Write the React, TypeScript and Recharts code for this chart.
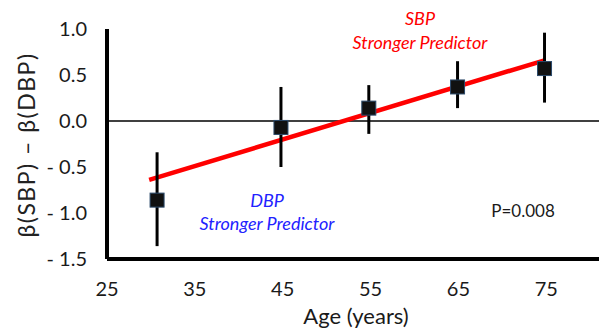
import {
  ComposedChart,
  Scatter,
  XAxis,
  YAxis,
  ReferenceLine,
} from "recharts";

// age group midpoints and beta difference estimates
const ages = [30.7, 44.8, 54.8, 64.9, 74.8];
const betaDiff = [-0.86, -0.07, 0.14, 0.37, 0.57];
const ciLow = [-1.36, -0.5, -0.14, 0.14, 0.2];
const ciHigh = [-0.34, 0.37, 0.39, 0.65, 0.96];

// regression fit end points
const fitX = [29.8, 74.8];
const fitY = [-0.64, 0.66];

const xTicks = [25, 35, 45, 55, 65, 75];
const yTicks = [-1.5, -1.0, -0.5, 0.0, 0.5, 1.0];

const FONT = "Lato, 'Open Sans', sans-serif";

const points = ages.map((age, i) => ({ age, diff: betaDiff[i] }));
// one two-point series per confidence interval
const ciSeries = ages.map((age, i) => [
  { age, diff: ciLow[i] },
  { age, diff: ciHigh[i] },
]);

const fmtY = (v: number) => (v < 0 ? "- " + Math.abs(v).toFixed(1) : v.toFixed(1));

const Square = (props: any) => {
  const { cx, cy } = props;
  return (
    <rect
      x={cx - 7}
      y={cy - 7}
      width={14}
      height={14}
      fill="#111"
      stroke="#2b4a6b"
      strokeWidth={1}
    />
  );
};

const NoDot = () => <g />;

const note = (left: number, top: number, color: string, size: number, italic = false) => ({
  position: "absolute" as const,
  left,
  top,
  transform: "translate(-50%, -50%)",
  whiteSpace: "nowrap" as const,
  lineHeight: 1,
  fontFamily: FONT,
  fontSize: size,
  fontStyle: italic ? "italic" : "normal",
  color,
});

export default function App() {
  return (
    <div style={{ position: "absolute", left: 0, top: 0, width: 599, height: 329, background: "#fff" }}>
      <ComposedChart
        width={599}
        height={329}
        margin={{ top: 29, right: 0, bottom: 0, left: 0 }}
      >
        <XAxis
          type="number"
          dataKey="age"
          domain={[25, 81]}
          ticks={xTicks}
          height={70}
          stroke="#000"
          strokeWidth={4}
          tickLine={false}
          tickMargin={17}
          tick={{ fill: "#1a1a1a", fontSize: 20, fontFamily: FONT, strokeWidth: 0 }}
        />
        <YAxis
          type="number"
          domain={[-1.5, 1]}
          ticks={yTicks}
          width={107}
          stroke="#000"
          strokeWidth={4}
          tickLine={false}
          tickMargin={14}
          tickFormatter={fmtY}
          tick={{ fill: "#1a1a1a", fontSize: 20, fontFamily: FONT, strokeWidth: 0 }}
        />
        <ReferenceLine x={25} stroke="#000" strokeWidth={4} ifOverflow="visible" />
        <ReferenceLine y={-1.5} stroke="#000" strokeWidth={4} ifOverflow="visible" />
        <ReferenceLine y={0} stroke="#000" strokeWidth={1.5} />
        {ciSeries.map((d, i) => (
          <Scatter
            key={i}
            data={d}
            dataKey="diff"
            line={{ stroke: "#000", strokeWidth: 3 }}
            shape={<NoDot />}
            isAnimationActive={false}
          />
        ))}
        <ReferenceLine
          segment={[
            { x: fitX[0], y: fitY[0] },
            { x: fitX[1], y: fitY[1] },
          ]}
          stroke="#ff0000"
          strokeWidth={4.5}
          ifOverflow="visible"
        />
        <Scatter
          data={points}
          dataKey="diff"
          shape={<Square />}
          isAnimationActive={false}
        />
      </ComposedChart>
      <div style={{ ...note(26, 145, "#222", 23), transform: "translate(-50%, -50%) rotate(-90deg)", letterSpacing: 1.5 }}>
        β(SBP) – β(DBP)
      </div>
      <div style={note(356, 316, "#1a1a1a", 22)}>Age (years)</div>
      <div style={note(420, 18, "#ff0000", 18, true)}>SBP</div>
      <div style={note(420, 42, "#ff0000", 18, true)}>Stronger Predictor</div>
      <div style={note(267, 200, "#2222ff", 18, true)}>DBP</div>
      <div style={note(267, 223, "#2222ff", 18, true)}>Stronger Predictor</div>
      <div style={note(523, 210, "#1a1a1a", 17)}>P=0.008</div>
    </div>
  );
}
